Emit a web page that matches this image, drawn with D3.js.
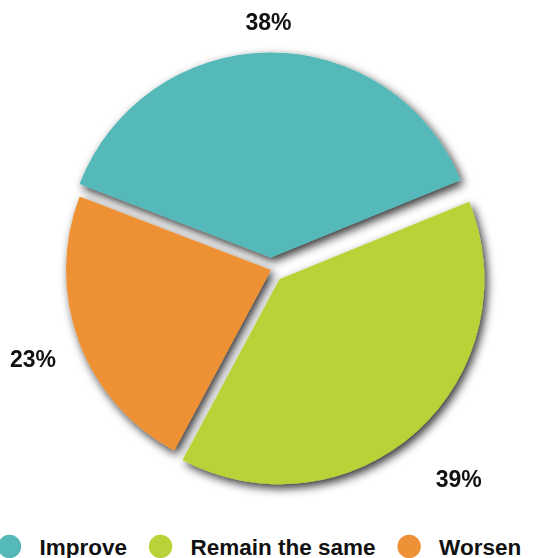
<!DOCTYPE html>
<html>
<head>
<meta charset="utf-8">
<script src="https://cdn.jsdelivr.net/npm/d3@7"></script>
<style>
  html, body { margin: 0; padding: 0; background: #fff; }
  svg { display: block; }
  text { font-family: "Liberation Sans", Arial, Helvetica, sans-serif; font-weight: bold; fill: #111; }
</style>
</head>
<body>
<svg id="chart" width="549" height="558"></svg>
<script>
// Survey answers and their shares (percent)
const categories = ["Improve", "Remain the same", "Worsen"];
const values = [38, 39, 23];
const colors = ["#56b9b9", "#b8d237", "#ee9136"];

// Layout
const W = 549, H = 558;
const cx = 271, cy = 270, radius = 205;
const startDeg = -69;
const explode = [12.5, 12.5, 0];       // how far each slice is pulled out
const labelRadius = [236, 268, 254];   // distance of each % label from its slice tip

const svg = d3.select("#chart");

// Soft drop shadow under the whole pie
const defs = svg.append("defs");
const f = defs.append("filter").attr("id", "pieShadow")
  .attr("x", "-20%").attr("y", "-20%").attr("width", "140%").attr("height", "140%");
f.append("feDropShadow")
  .attr("dx", 3).attr("dy", 4)
  .attr("stdDeviation", 5)
  .attr("flood-color", "#000")
  .attr("flood-opacity", 0.8);

const pie = d3.pie()
  .sort(null)
  .value(d => d)
  .startAngle(startDeg * Math.PI / 180)
  .endAngle(startDeg * Math.PI / 180 + 2 * Math.PI);

const arcs = pie(values);
const arc = d3.arc().innerRadius(0).outerRadius(radius);

const mid = d => (d.startAngle + d.endAngle) / 2;
const shift = (d, r) => [Math.sin(mid(d)) * r, -Math.cos(mid(d)) * r];

const g = svg.append("g")
  .attr("transform", `translate(${cx},${cy})`);

const slices = g.append("g").attr("filter", "url(#pieShadow)");
slices.selectAll("path")
  .data(arcs)
  .join("path")
  .attr("d", arc)
  .attr("fill", (d, i) => colors[i])
  .attr("transform", (d, i) => {
    const [x, y] = shift(d, explode[i]);
    return `translate(${x},${y})`;
  });

// Percentage labels outside each slice
g.selectAll("text.pct")
  .data(arcs)
  .join("text")
  .attr("class", "pct")
  .attr("text-anchor", "middle")
  .attr("dy", "0.36em")
  .style("font-size", "23px")
  .attr("x", (d, i) => shift(d, explode[i])[0] + shift(d, labelRadius[i])[0])
  .attr("y", (d, i) => shift(d, explode[i])[1] + shift(d, labelRadius[i])[1])
  .text(d => d.value + "%");

// Legend along the bottom
const legendY = 546.5, dotR = 11.7;
const legend = svg.append("g");
let x = 9.5;
categories.forEach((name, i) => {
  legend.append("circle")
    .attr("cx", x).attr("cy", legendY).attr("r", dotR)
    .attr("fill", colors[i]);
  const t = legend.append("text")
    .attr("x", x + 30)
    .attr("y", legendY + 8)
    .style("font-size", "22.5px")
    .text(name);
  x = x + 30 + t.node().getComputedTextLength() + 33.5;
});
</script>
</body>
</html>
